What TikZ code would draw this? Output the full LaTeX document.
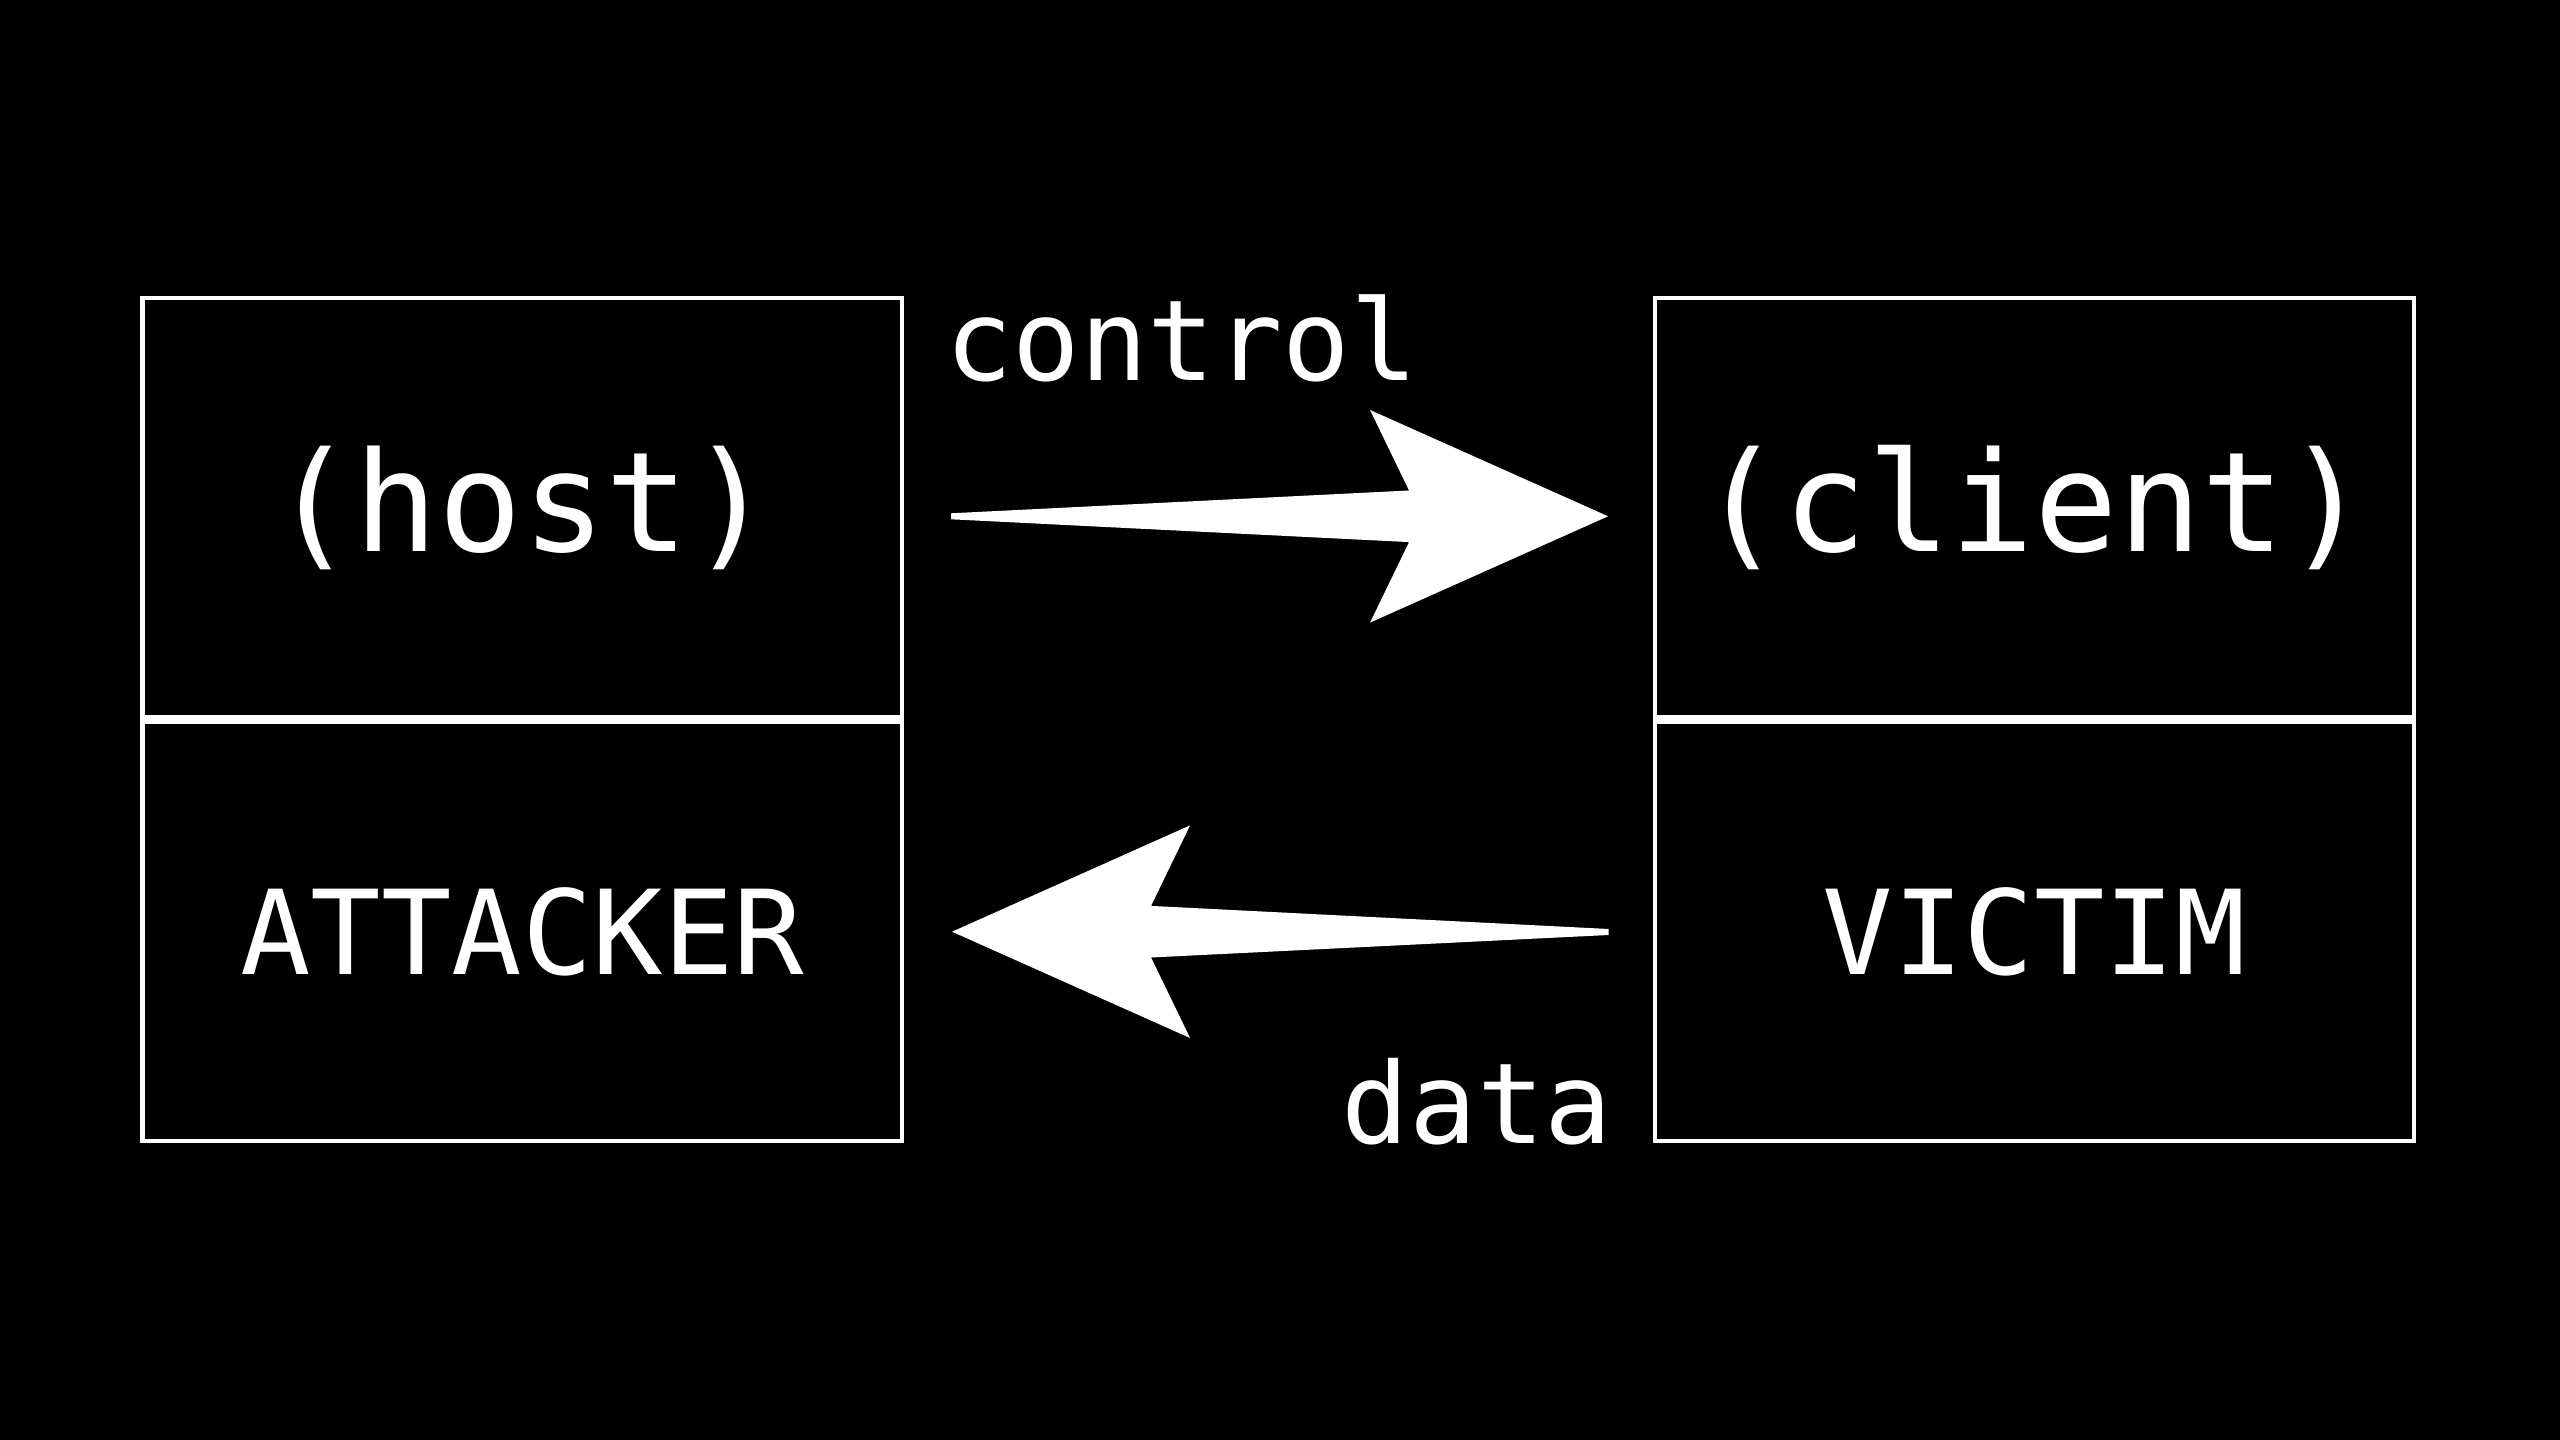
\documentclass[tikz,border=0pt]{standalone}
\usepackage{fontspec}
\newfontfamily\dvm{DejaVu Sans Mono}
\usetikzlibrary{calc}
\tikzset{
  halfbox/.style={draw=white, line width=4.5*0.01cm, outer sep=0pt, inner sep=0pt,
    minimum width=759.3*0.01cm, minimum height=419.2*0.01cm, text=white},
  bigtext/.style={font=\dvm\fontsize{39.5}{40}\selectfont},
  captext/.style={font=\dvm\fontsize{33.3}{34}\selectfont},
  lbltext/.style={font=\dvm\fontsize{31.9}{32}\selectfont, text=white, inner sep=0pt, anchor=base},
  arrowfill/.style={fill=white}
}
\begin{document}
\begin{tikzpicture}[x=0.01cm,y=-0.01cm]
\fill[black] (0,0) rectangle (2560,1440);
\useasboundingbox (0,0) rectangle (2560,1440);

\node[halfbox, bigtext] (hostTop) at (522.2,507.7) {(host)};
\node[halfbox, captext] (hostBot) at (522.2,931.5) {ATTACKER};
\node[halfbox, bigtext] (clientTop) at (2034.4,507.7) {(client)};
\node[halfbox, captext] (clientBot) at (2034.4,931.5) {VICTIM};

% control arrow
\coordinate (ct) at ($(hostTop.east)+(49.2,8.6)$);
\coordinate (ch) at ($(clientTop.west)+(-46.7,8.6)$);
\fill[arrowfill] ($(ct)+(0,-3)$) -- ($(ch)+(-199,-25.8)$) -- ($(ch)+(-238,-106.3)$) -- (ch)
  -- ($(ch)+(-238,106.3)$) -- ($(ch)+(-199,25.8)$) -- ($(ct)+(0,3)$) -- cycle;

% data arrow
\coordinate (dt) at ($(clientBot.west)+(-46.1,0.5)$);
\coordinate (dh) at ($(hostBot.east)+(50.2,0.2)$);
\fill[arrowfill] ($(dt)+(0,-3)$) -- ($(dh)+(199,-25.8)$) -- ($(dh)+(238,-106.3)$) -- (dh)
  -- ($(dh)+(238,106.3)$) -- ($(dh)+(199,25.8)$) -- ($(dt)+(0,3)$) -- cycle;

\node[lbltext] (lcontrol) at (1181.5,381) {control};
\node[lbltext] (ldata) at (1477,1143) {data};
\end{tikzpicture}
\end{document}
